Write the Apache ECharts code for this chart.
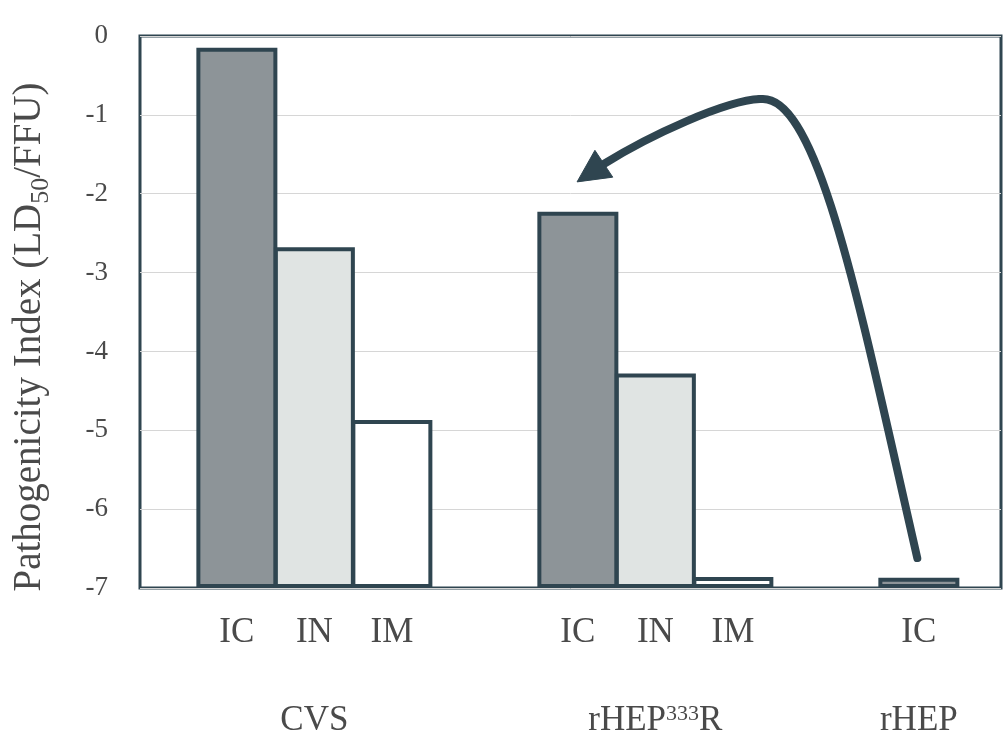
<!DOCTYPE html>
<html>
<head>
<meta charset="utf-8">
<script src="https://cdn.jsdelivr.net/npm/echarts@6/dist/echarts.min.js"></script>
<style>
html, body { margin: 0; padding: 0; background: #fff; }
#main { width: 1004px; height: 741px; }
</style>
</head>
<body>
<div id="main"></div>
<script>
// virus strains and inoculation routes
var groups = ['CVS', 'rHEP333R', 'rHEP'];
var routes = ['IC', 'IN', 'IM'];
// pathogenicity index, one value per strain (null = route not tested)
var icValues = [-0.15, -2.23, -6.87];
var inValues = [-2.68, -4.28, null];
var imValues = [-4.87, -6.86, null];
var yTicks = [0, -1, -2, -3, -4, -5, -6, -7];

var routeValues = [icValues, inValues, imValues];
var routeColors = ['#8d9498', '#e0e4e3', '#ffffff'];
var edge = '#2f4550';
var txt = '#4a4a4a';
var font = 'Liberation Serif';

// place bars side by side inside a strain, with a wider step between strains
var groupStep = 2.4;
var seriesData = [[], [], []];
var routeLabelPos = [], routeLabelText = [];
var groupLabelPos = [];
var x = 0;
for (var g = 0; g < groups.length; g++) {
    var start = x;
    for (var r = 0; r < routes.length; r++) {
        var v = routeValues[r][g];
        if (v === null) continue;
        seriesData[r].push([x, v]);
        routeLabelPos.push(x);
        routeLabelText.push(routes[r]);
        x += 1;
    }
    groupLabelPos.push((start + x - 1) / 2);
    x += groupStep - 1;
}

function lookup(posList, textList) {
    return function (val) {
        for (var i = 0; i < posList.length; i++) {
            if (Math.abs(posList[i] - val) < 1e-6) return textList[i];
        }
        return '';
    };
}

var myChart = echarts.init(document.getElementById('main'));

var series = routes.map(function (name, r) {
    return {
        name: name,
        type: 'bar',
        data: seriesData[r],
        barWidth: 81,
        barGap: '-100%',
        itemStyle: { color: routeColors[r], borderColor: edge, borderWidth: 4 },
        z: 3
    };
});

var option = {
    backgroundColor: '#fff',
    animation: false,
    grid: {
        left: 140, right: 3, top: 36, bottom: 153,
        show: true, borderColor: edge, borderWidth: 3
    },
    xAxis: [{
        type: 'value',
        min: -1.25,
        max: 9.86,
        axisLine: { show: false },
        axisTick: { show: false },
        splitLine: { show: false },
        axisLabel: {
            customValues: routeLabelPos,
            formatter: lookup(routeLabelPos, routeLabelText),
            fontFamily: font, fontSize: 35, color: txt, margin: 27
        }
    }, {
        type: 'value',
        position: 'bottom',
        min: -1.25,
        max: 9.86,
        axisLine: { show: false },
        axisTick: { show: false },
        splitLine: { show: false },
        axisLabel: {
            customValues: groupLabelPos,
            formatter: function (val) {
                var s = lookup(groupLabelPos, groups)(val);
                return s.replace(/(\d+)/, '{sup|$1}');
            },
            fontFamily: font, fontSize: 35, color: txt, margin: 115,
            rich: {
                sup: { fontFamily: font, fontSize: 22, color: txt, verticalAlign: 'top', lineHeight: 36 }
            }
        }
    }],
    yAxis: {
        type: 'value',
        min: -7,
        max: 0,
        interval: 1,
        startValue: -7,
        name: 'Pathogenicity Index (LD{sub|50}/FFU)',
        nameLocation: 'middle',
        nameRotate: 90,
        nameGap: 86,
        nameTextStyle: {
            fontFamily: font, fontSize: 39, color: txt,
            padding: [0, 50, 0, 0],
            rich: {
                sub: { fontFamily: font, fontSize: 26, color: txt, verticalAlign: 'bottom', lineHeight: 48 }
            }
        },
        axisLine: { show: false },
        axisTick: { show: false },
        axisLabel: {
            fontFamily: font, fontSize: 27, color: txt, margin: 32,
            formatter: function (v) { return yTicks.indexOf(v) >= 0 ? String(v) : ''; }
        },
        splitLine: { show: true, lineStyle: { color: '#d6d6d6', width: 1 } }
    },
    series: series
};

myChart.setOption(option);

// curved arrow (annotation) anchored in data space: two cubic segments + head
var arrowSegments = [
    [[8.78, -6.62], [8.04, -3.45], [7.50, -0.70], [6.75, -0.80]],
    [[6.75, -0.80], [6.30, -0.82], [5.33, -1.26], [4.74, -1.62]]
];
var arrowHead = [[4.39, -1.85], [4.62, -1.45], [4.85, -1.79]];

function px(p) { return myChart.convertToPixel({ gridIndex: 0 }, p); }

var graphics = arrowSegments.map(function (seg) {
    var p = seg.map(px);
    return {
        type: 'bezierCurve',
        shape: {
            x1: p[0][0], y1: p[0][1],
            cpx1: p[1][0], cpy1: p[1][1],
            cpx2: p[2][0], cpy2: p[2][1],
            x2: p[3][0], y2: p[3][1]
        },
        style: { fill: null, stroke: edge, lineWidth: 8, lineCap: 'round' },
        z: 10
    };
});
graphics.push({
    type: 'polygon',
    shape: { points: arrowHead.map(px) },
    style: { fill: edge, stroke: edge, lineWidth: 1 },
    z: 10
});

myChart.setOption({ graphic: graphics });
</script>
</body>
</html>
